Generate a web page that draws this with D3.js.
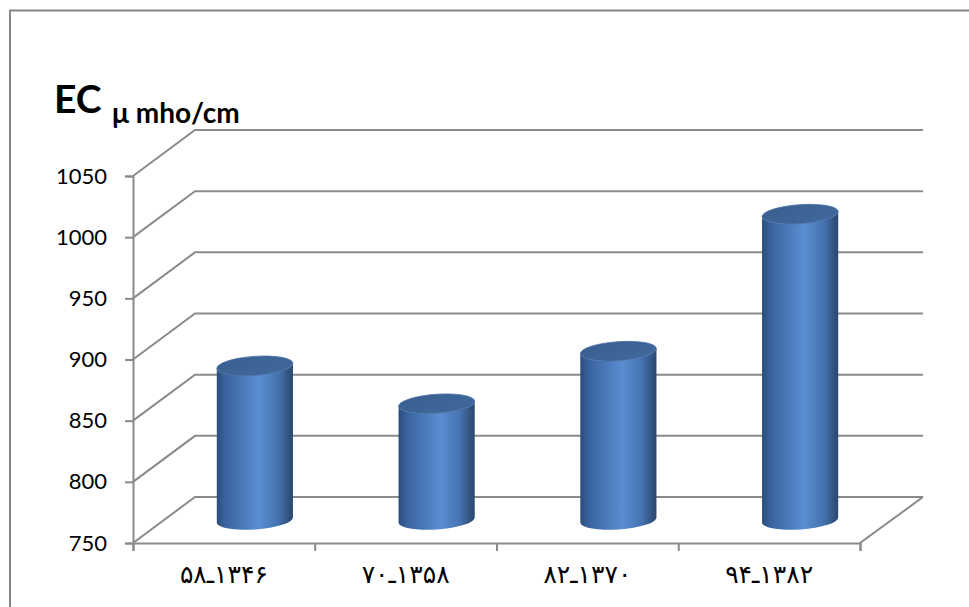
<!DOCTYPE html>
<html>
<head>
<meta charset="utf-8">
<script src="https://cdn.jsdelivr.net/npm/d3@7"></script>
<style>
  body { margin: 0; background: #fff; }
  svg { display: block; }
</style>
</head>
<body>
<div id="chart"></div>
<script>
// period labels (Persian digits), values in µmho/cm
const categories = ["۵۸ـ۱۳۴۶", "۷۰ـ۱۳۵۸", "۸۲ـ۱۳۷۰", "۹۴ـ۱۳۸۲"];
const ecValues = [876, 845, 888, 1000];
const yTicks = [750, 800, 850, 900, 950, 1000, 1050];

const width = 969;
const height = 607;
const depthX = 62;   // oblique depth offset
const depthY = -46;

const svg = d3
  .select("#chart")
  .append("svg")
  .attr("width", width)
  .attr("height", height);

// outer frame (only top and left edges are visible)
svg.append("path")
  .attr("d", `M10,${height} L10,10.5 L${width},10.5`)
  .attr("fill", "none")
  .attr("stroke", "#868686")
  .attr("stroke-width", 2);

const xScale = d3.scaleBand().domain(categories).range([133, 860]);
const yScale = d3.scaleLinear().domain([750, 1050]).range([543, 176]);
const tickScale = d3.scaleLinear().domain([0, categories.length]).range([133, 860]);

const grid = svg.append("g")
  .attr("fill", "none")
  .attr("stroke", "#8a8a8a")
  .attr("stroke-width", 2);

// back wall gridlines + side wall diagonals
grid.selectAll("path.grid")
  .data(yTicks)
  .join("path")
  .attr("class", "grid")
  .attr("d", (d) => {
    const y0 = yScale(d);
    return `M133,${y0} L${133 + depthX},${y0 + depthY} L${860 + depthX + 1},${y0 + depthY}`;
  });

// floor right edge
grid.append("path")
  .attr("d", `M860,${yScale(750)} L${860 + depthX + 1},${yScale(750) + depthY}`);

// y axis
const yAxis = d3.axisLeft(yScale).tickValues(yTicks).tickSize(8).tickPadding(18).tickFormat(d3.format("d"));
const yAxisGroup = svg.append("g")
  .attr("transform", "translate(133,0)")
  .call(yAxis);
yAxisGroup.select(".domain").attr("stroke", "#8a8a8a").attr("stroke-width", 2);
yAxisGroup.selectAll(".tick line").attr("stroke", "#8a8a8a").attr("stroke-width", 2);
yAxisGroup.selectAll(".tick text")
  .attr("fill", "#000")
  .style("font-family", "Lato, 'Liberation Sans', sans-serif")
  .style("font-weight", "400")
  .style("font-size", "22px");

// x axis (ticks on category boundaries)
const xAxis = d3.axisBottom(tickScale).tickValues(d3.range(categories.length + 1)).tickSize(8).tickFormat("");
const xAxisGroup = svg.append("g")
  .attr("transform", `translate(0,${yScale(750)})`)
  .call(xAxis);
xAxisGroup.select(".domain").attr("stroke", "#8a8a8a").attr("stroke-width", 2);
xAxisGroup.selectAll(".tick line").attr("stroke", "#8a8a8a").attr("stroke-width", 2);

svg.append("g")
  .selectAll("text")
  .data(categories)
  .join("text")
  .attr("x", (d) => xScale(d) + xScale.bandwidth() / 2)
  .attr("y", 583)
  .attr("text-anchor", "middle")
  .attr("direction", "ltr")
  .attr("unicode-bidi", "bidi-override")
  .style("font-family", "'DejaVu Sans', sans-serif")
  .style("font-size", "25px")
  .attr("fill", "#000")
  .text((d) => d);

// cylinder gradients
const defs = svg.append("defs");
const bodyGrad = defs.append("linearGradient").attr("id", "body").attr("x1", 0).attr("x2", 1).attr("y1", 0).attr("y2", 0);
[
  [0, "#2c4d7c"],
  [0.12, "#3a64a0"],
  [0.55, "#5a8dd2"],
  [0.8, "#4674b2"],
  [1, "#2a466d"],
].forEach(([o, c]) => bodyGrad.append("stop").attr("offset", o).attr("stop-color", c));

const topGrad = defs.append("linearGradient").attr("id", "top").attr("x1", 0).attr("x2", 1).attr("y1", 0).attr("y2", 1);
topGrad.append("stop").attr("offset", 0).attr("stop-color", "#3a5f8f");
topGrad.append("stop").attr("offset", 1).attr("stop-color", "#41699e");

const cylW = xScale.bandwidth() * 0.42;
const rx = cylW / 2;
const ry = 9.5;
const tilt = -4;
const ca = Math.cos((tilt * Math.PI) / 180);
const sa = Math.sin((tilt * Math.PI) / 180);

const bars = svg.append("g")
  .selectAll("g")
  .data(categories.map((c, i) => ({ c, v: ecValues[i] })))
  .join("g");

function cx(d) { return xScale(d.c) + xScale.bandwidth() / 2 + depthX / 2; }
function baseY() { return yScale(750) + depthY / 2; }
function topY(d) { return yScale(d.v) + depthY / 2; }

bars.append("path")
  .attr("fill", "url(#body)")
  .attr("d", (d) => {
    const x = cx(d), yb = baseY(), yt = topY(d);
    const lx = x - rx * ca, rxp = x + rx * ca;
    const ly = -rx * sa, ryo = rx * sa;
    return `M${lx},${yt + ly} L${lx},${yb + ly}` +
      ` A${rx},${ry} ${tilt} 0 0 ${rxp},${yb + ryo}` +
      ` L${rxp},${yt + ryo}` +
      ` A${rx},${ry} ${tilt} 0 1 ${lx},${yt + ly} Z`;
  });

bars.append("ellipse")
  .attr("cx", cx)
  .attr("cy", topY)
  .attr("rx", rx)
  .attr("ry", ry)
  .attr("transform", (d) => `rotate(${tilt},${cx(d)},${topY(d)})`)
  .attr("fill", "url(#top)")
  .attr("stroke", "#4a72a6")
  .attr("stroke-width", 0.8);

// title
const title = svg.append("text")
  .attr("x", 54)
  .attr("y", 113)
  .attr("fill", "#000")
  .style("font-family", "Lato, 'Liberation Sans', sans-serif")
  .style("font-weight", "bold");
title.append("tspan").style("font-size", "39px").text("EC");
title.append("tspan").attr("x", 112).attr("y", 123).style("font-size", "28px").text("μ mho/cm");
</script>
</body>
</html>
